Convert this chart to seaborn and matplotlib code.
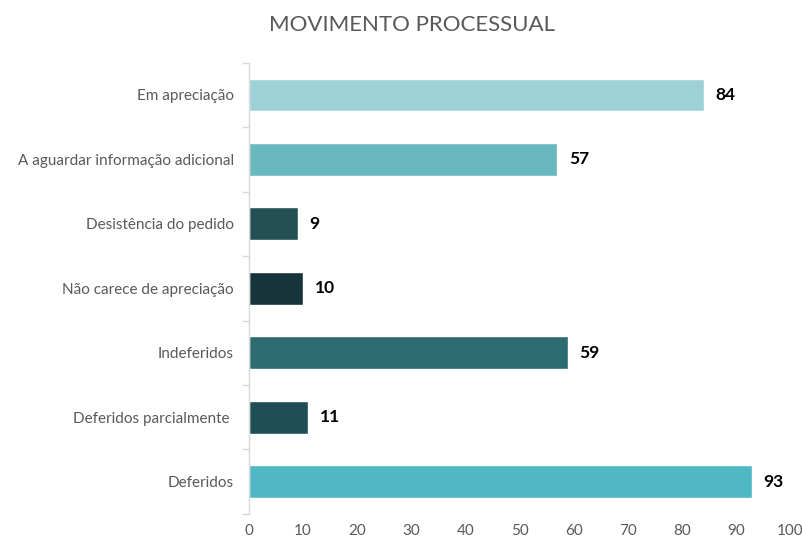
import numpy as np
import pandas as pd
import matplotlib
matplotlib.use("Agg")
import matplotlib.pyplot as plt
import seaborn as sns

categories = ["Em apreciação", "A aguardar informação adicional", "Desistência do pedido",
              "Não carece de apreciação", "Indeferidos", "Deferidos parcialmente ", "Deferidos"]
values = [84, 57, 9, 10, 59, 11, 93]
colors = ["#9DD1D7", "#6AB8BF", "#235055", "#17343A", "#2C6B70", "#1F4F55", "#4FB8C4"]
xticks = [0, 10, 20, 30, 40, 50, 60, 70, 80, 90, 100]

sns.set_theme(style="white")
plt.rcParams["font.family"] = ["Lato", "DejaVu Sans"]

df = pd.DataFrame({"categoria": categories, "valor": values})

fig = plt.figure(figsize=(8.03, 5.41), dpi=100)
ax = fig.add_axes([0.310, 0.050, 0.674, 0.834])

sns.barplot(data=df, x="valor", y="categoria", hue="categoria", palette=colors,
            orient="h", width=0.51, legend=False, ax=ax, saturation=1)

for i, v in enumerate(values):
    ax.text(v + 2.1, i, str(v), va="center", ha="left", fontsize=12.5,
            fontweight="bold", color="black")

ax.set_xlim(0, 100)
ax.set_ylim(6.5, -0.5)
ax.set_xticks(xticks)
ax.set_xlabel("")
ax.set_ylabel("")
ax.tick_params(axis="x", length=0, pad=7, labelsize=11, labelcolor="#595959")
ax.tick_params(axis="y", which="major", length=0, pad=11, labelsize=11, labelcolor="#595959")
ax.set_yticks(np.arange(-0.5, 7.0, 1.0), minor=True)
ax.tick_params(axis="y", which="minor", length=5, width=1, color="#D9D9D9", left=True)

for s in ["top", "right", "bottom"]:
    ax.spines[s].set_visible(False)
ax.spines["left"].set_color("#D9D9D9")
ax.spines["left"].set_linewidth(1)

fig.text(0.513, 0.953, "MOVIMENTO PROCESSUAL", ha="center", va="center",
         fontsize=16, color="#595959")

fig.savefig("out.png", dpi=100)
